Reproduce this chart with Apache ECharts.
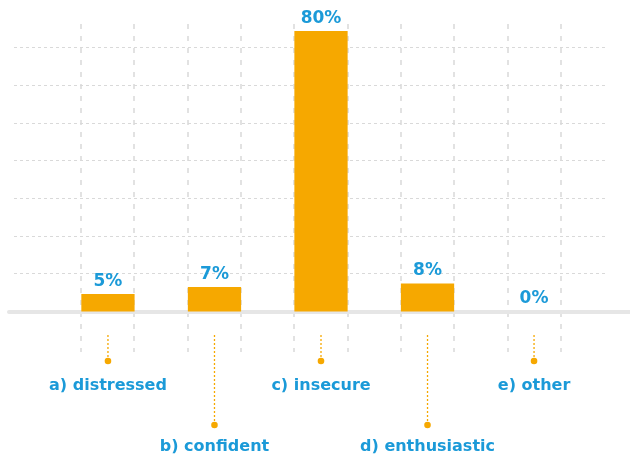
<!DOCTYPE html>
<html>
<head>
<meta charset="utf-8">
<script src="https://cdn.jsdelivr.net/npm/echarts@6/dist/echarts.min.js"></script>
<style>
html,body{margin:0;padding:0;background:#fff;}
#chart{width:630px;height:456px;}
</style>
</head>
<body>
<div id="chart"></div>
<script>
const categories = ['a) distressed', 'b) confident', 'c) insecure', 'd) enthusiastic', 'e) other'];
const values = [5, 7, 80, 8, 0];
const valueLabels = ['5%', '7%', '80%', '8%', '0%'];

const ORANGE = '#f6a800';
const BLUE = '#1b9ad8';
const GRIDC = '#d9d9d9';
const FONT = 'DejaVu Sans';

const chart = echarts.init(document.getElementById('chart'), null, {renderer: 'canvas'});

const G = {outerBoundsMode: 'none', containLabel: false};
const option = {
  animation: false,
  backgroundColor: '#ffffff',
  grid: [
    Object.assign({left: 14, right: 23, top: 47.7, bottom: 144.7}, G),
    Object.assign({left: 80.7, right: 69.3, top: 24, bottom: 104}, G),
    Object.assign({left: 9, right: 0, top: 300, bottom: 144.7}, G),
    Object.assign({left: 54.7, right: 42.7, top: 31, bottom: 144.5}, G),
    Object.assign({left: 54.7, right: 42.7, top: 335, bottom: 31}, G)
  ],
  xAxis: [
    {gridIndex: 0, type: 'value', min: 0, max: 1, show: false},
    {gridIndex: 1, type: 'value', min: 0, max: 9, interval: 1,
      axisLine: {show: false}, axisTick: {show: false}, axisLabel: {show: false},
      splitLine: {show: true, lineStyle: {color: GRIDC, width: 1.5, type: [5, 7]}}},
    {gridIndex: 2, type: 'value', min: 0, max: 1,
      axisLine: {show: true, onZero: false, lineStyle: {color: '#e6e6e6', width: 4}},
      axisTick: {show: false}, axisLabel: {show: false}, splitLine: {show: false}},
    {gridIndex: 3, type: 'category', data: categories,
      axisLine: {show: false}, axisTick: {show: false},
      axisLabel: {
        show: true, interval: 0, margin: 44, lineHeight: 61,
        color: BLUE, fontFamily: FONT, fontWeight: 'bold', fontSize: 16,
        formatter: function (v, i) { return i % 2 ? '\n' + v : v; }
      }},
    {gridIndex: 4, type: 'category', data: categories, show: false}
  ],
  yAxis: [
    {gridIndex: 0, type: 'value', min: 0, max: 7, interval: 1,
      axisLine: {show: false}, axisTick: {show: false}, axisLabel: {show: false},
      splitLine: {show: true, showMinLine: false, lineStyle: {color: GRIDC, width: 1, type: [3, 3]}}},
    {gridIndex: 1, type: 'value', min: 0, max: 1, show: false},
    {gridIndex: 2, type: 'value', min: 0, max: 1, show: false},
    {gridIndex: 3, type: 'value', min: 0, max: 80, show: false},
    {gridIndex: 4, type: 'value', min: 0, max: 1, show: false}
  ],
  series: [
    {
      type: 'bar', xAxisIndex: 3, yAxisIndex: 3, z: 5,
      data: values, barWidth: '50%',
      itemStyle: {color: ORANGE},
      label: {
        show: true, position: 'top', distance: 4,
        color: BLUE, fontFamily: FONT, fontWeight: 'bold', fontSize: 17,
        formatter: function (p) { return valueLabels[p.dataIndex]; }
      }
    },
    {
      type: 'custom', xAxisIndex: 4, yAxisIndex: 4, z: 4,
      data: categories.map(function (c, i) { return [i]; }),
      encode: {x: 0},
      renderItem: function (params, api) {
        const i = api.value(0);
        const top = api.coord([i, 1]);
        const end = api.coord([i, i % 2 ? 0 : 0.711]);
        return {
          type: 'group',
          children: [
            {type: 'line', shape: {x1: top[0], y1: top[1], x2: end[0], y2: end[1] - 3},
              style: {stroke: ORANGE, lineWidth: 1.3, lineDash: [2, 2]}},
            {type: 'circle', shape: {cx: end[0], cy: end[1], r: 3.3},
              style: {fill: ORANGE}}
          ]
        };
      }
    }
  ]
};
chart.setOption(option);
</script>
</body>
</html>
